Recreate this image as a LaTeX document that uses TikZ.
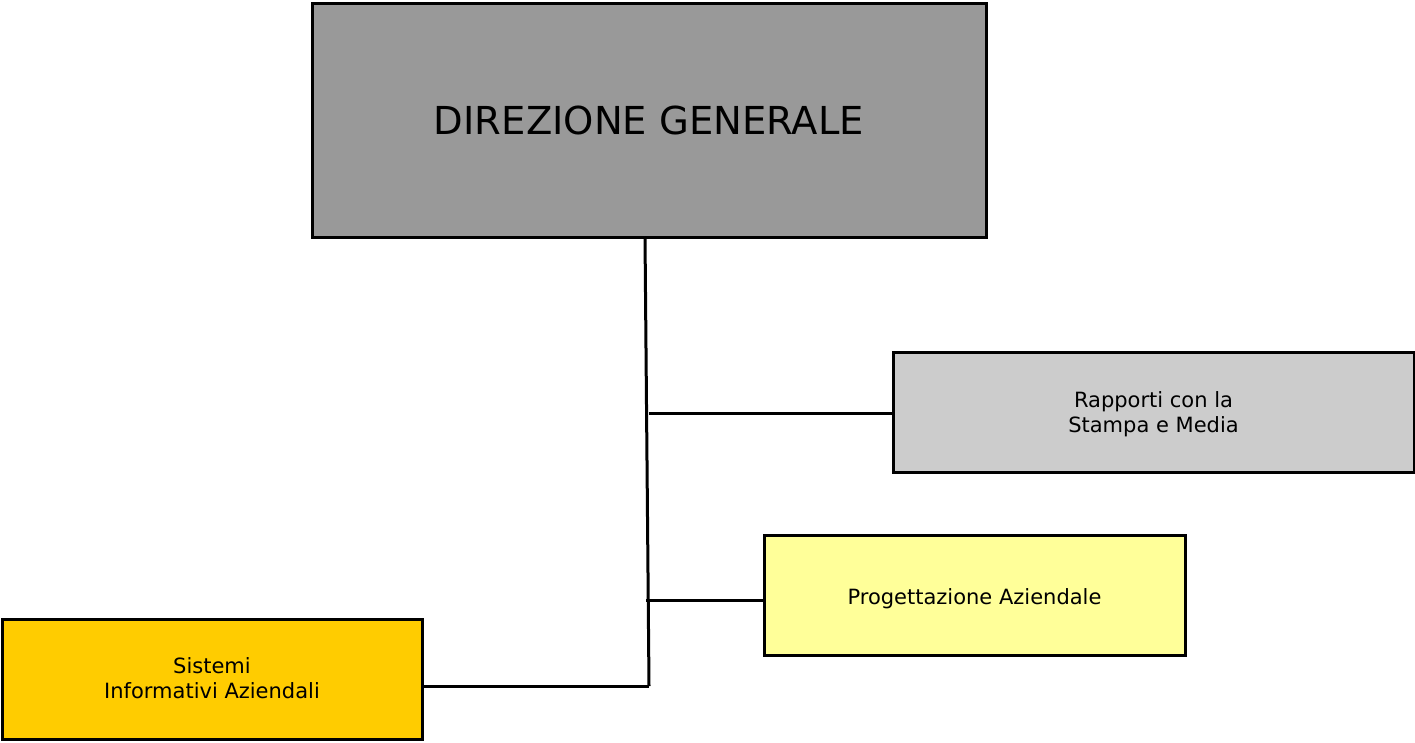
\documentclass[tikz,border=0pt]{standalone}
\usepackage{fontspec}
\setmainfont{DejaVu Sans}
\definecolor{dgray}{HTML}{999999}
\definecolor{lgray}{HTML}{CCCCCC}
\definecolor{lyellow}{HTML}{FFFF99}
\definecolor{gold}{HTML}{FFCC00}
\newcommand{\shiftdown}[2]{\raisebox{-#1}[\height][\depth]{#2}}
\begin{document}
\begin{tikzpicture}[x=1pt,y=-1pt,
  box/.style={draw=black,line width=3pt,inner sep=0pt,align=center,font=\fontsize{21}{26}\selectfont},
  conn/.style={draw=black,line width=3pt}]
\useasboundingbox (0,0) rectangle (1415,742);
\node[box,fill=dgray,minimum width=674pt,minimum height=234pt,font=\fontsize{38.5}{44}\selectfont] (dg) at (649,120) {DIREZIONE GENERALE};
\node[box,fill=lgray,minimum width=521pt,minimum height=120pt] (rs) at (1153.5,412) {\shiftdown{3pt}{\begin{tabular}{@{}c@{}}Rapporti con la\\[-1pt]Stampa e Media\end{tabular}}};
\node[box,fill=lyellow,minimum width=421pt,minimum height=120pt] (pa) at (974.5,595) {\shiftdown{4pt}{Progettazione Aziendale}};
\node[box,fill=gold,minimum width=420pt,minimum height=120pt] (si) at (212,679) {\shiftdown{1.5pt}{\begin{tabular}{@{}c@{}}Sistemi\\[-1pt]Informativi Aziendali\end{tabular}}};
\coordinate (top) at (645,237);
\coordinate (bot) at (649,686);
\coordinate (j1) at (649,413);
\coordinate (j2) at (646,600);
\draw[conn] (top) -- (bot);
\draw[conn] (j1) -- (rs.west |- j1);
\draw[conn] (j2) -- (pa.west |- j2);
\draw[conn] (si.east |- bot) -- (bot);
\end{tikzpicture}
\end{document}
